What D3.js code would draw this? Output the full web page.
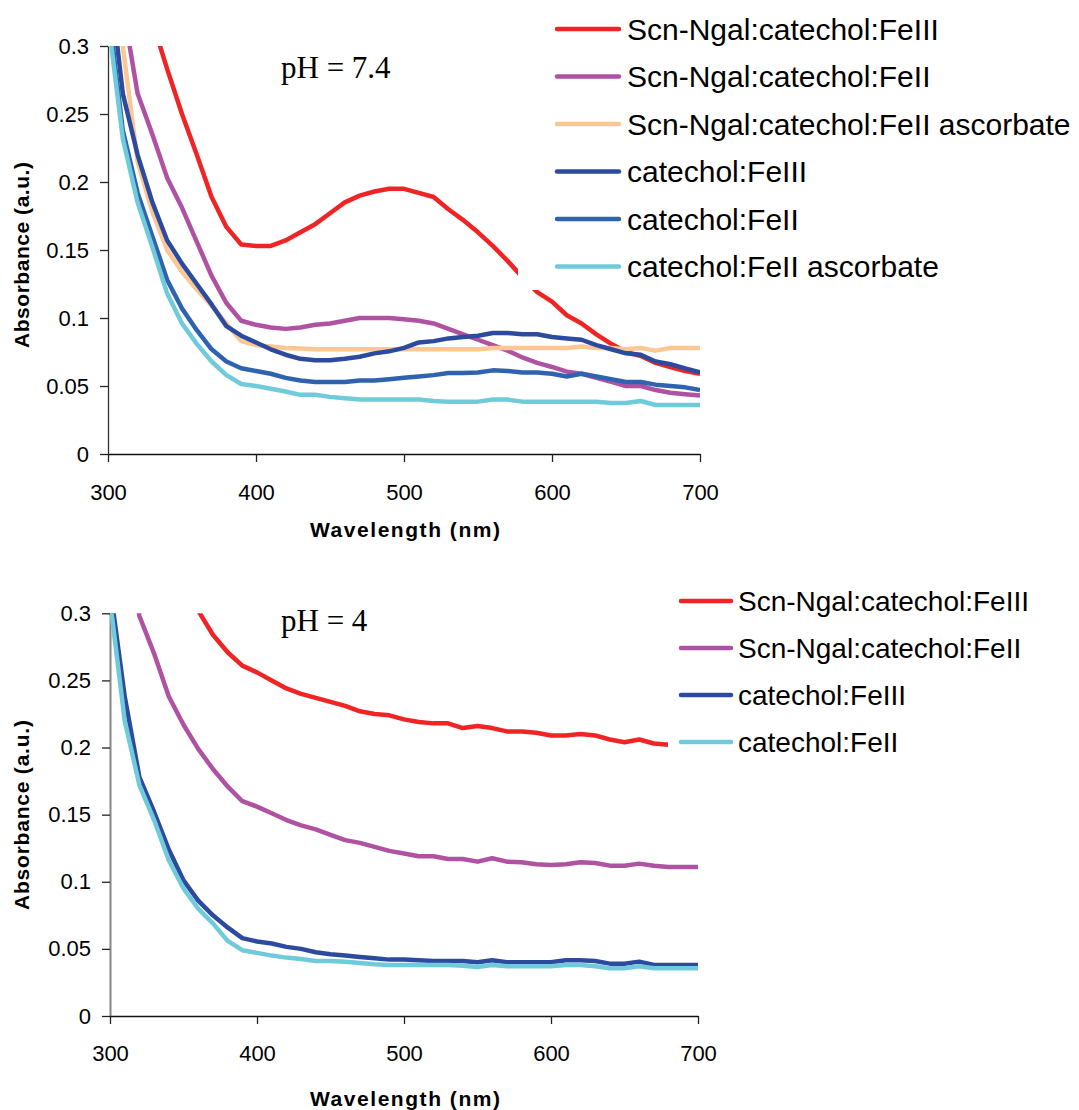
<!DOCTYPE html>
<html>
<head>
<meta charset="utf-8">
<script src="https://cdn.jsdelivr.net/npm/d3@7"></script>
<style>
  body { margin: 0; background: #fff; }
  svg text { font-family: "Liberation Sans", Arial, sans-serif; fill: #000; }
</style>
</head>
<body>
<div id="chart"></div>
<script>
// wavelength grid (nm), shared by every spectrum
const wavelengths = [300, 310, 320, 330, 340, 350, 360, 370, 380, 390, 400,
  410, 420, 430, 440, 450, 460, 470, 480, 490, 500,
  510, 520, 530, 540, 550, 560, 570, 580, 590, 600,
  610, 620, 630, 640, 650, 660, 670, 680, 690, 700];

const xTicks = [300, 400, 500, 600, 700];
const yTicks = [0, 0.05, 0.1, 0.15, 0.2, 0.25, 0.3];

// pH 7.4 spectra
const scnFe3_74 = [0.50, 0.42, 0.36, 0.318, 0.283, 0.250, 0.220, 0.189, 0.167, 0.154, 0.153,
  0.153, 0.157, 0.163, 0.169, 0.177, 0.185, 0.190, 0.193, 0.195, 0.195,
  0.192, 0.189, 0.180, 0.172, 0.163, 0.153, 0.142, 0.130, 0.119, 0.112,
  0.102, 0.096, 0.088, 0.081, 0.075, 0.072, 0.067, 0.064, 0.061, 0.059];
const scnFe2_74 = [0.42, 0.33, 0.265, 0.235, 0.203, 0.181, 0.156, 0.131, 0.111, 0.098, 0.095,
  0.093, 0.092, 0.093, 0.095, 0.096, 0.098, 0.100, 0.100, 0.100, 0.099,
  0.098, 0.096, 0.092, 0.088, 0.084, 0.080, 0.076, 0.071, 0.067, 0.064,
  0.0605, 0.059, 0.056, 0.053, 0.050, 0.050, 0.047, 0.045, 0.044, 0.043];
const scnFe2Asc_74 = [0.40, 0.30, 0.215, 0.178, 0.150, 0.134, 0.121, 0.109, 0.096, 0.083, 0.080,
  0.079, 0.078, 0.0775, 0.077, 0.077, 0.077, 0.077, 0.077, 0.077, 0.077,
  0.077, 0.077, 0.077, 0.077, 0.077, 0.078, 0.078, 0.078, 0.078, 0.078,
  0.078, 0.079, 0.078, 0.078, 0.077, 0.078, 0.076, 0.078, 0.078, 0.078];
const catFe3_74 = [0.36, 0.265, 0.22, 0.185, 0.157, 0.140, 0.125, 0.110, 0.094, 0.087, 0.082,
  0.077, 0.073, 0.070, 0.069, 0.069, 0.070, 0.0715, 0.074, 0.0755, 0.078,
  0.082, 0.083, 0.085, 0.086, 0.087, 0.089, 0.089, 0.088, 0.088, 0.086,
  0.085, 0.084, 0.080, 0.077, 0.074, 0.073, 0.068, 0.066, 0.063, 0.060];
const catFe2_74 = [0.33, 0.238, 0.192, 0.160, 0.128, 0.107, 0.091, 0.077, 0.068, 0.063, 0.061,
  0.059, 0.056, 0.054, 0.053, 0.053, 0.053, 0.054, 0.054, 0.055, 0.056,
  0.057, 0.058, 0.0595, 0.0595, 0.060, 0.0615, 0.061, 0.060, 0.060, 0.059,
  0.057, 0.059, 0.057, 0.055, 0.053, 0.053, 0.051, 0.050, 0.049, 0.047];
const catFe2Asc_74 = [0.32, 0.232, 0.185, 0.152, 0.118, 0.096, 0.081, 0.068, 0.058, 0.0515, 0.050,
  0.048, 0.046, 0.0435, 0.0435, 0.042, 0.041, 0.040, 0.040, 0.040, 0.040,
  0.040, 0.039, 0.0385, 0.0385, 0.0385, 0.040, 0.040, 0.0385, 0.0385, 0.0385,
  0.0385, 0.0385, 0.0385, 0.0375, 0.0375, 0.039, 0.036, 0.036, 0.036, 0.036];

// pH 4 spectra
const scnFe3_4 = [0.60, 0.50, 0.43, 0.375, 0.34, 0.32, 0.302, 0.284, 0.271, 0.261, 0.256,
  0.250, 0.244, 0.240, 0.237, 0.234, 0.231, 0.227, 0.225, 0.224, 0.221,
  0.219, 0.218, 0.218, 0.2145, 0.216, 0.2145, 0.212, 0.212, 0.211, 0.209,
  0.209, 0.210, 0.209, 0.206, 0.204, 0.206, 0.203, 0.202, 0.201, 0.200];
const scnFe2_4 = [0.45, 0.36, 0.298, 0.270, 0.238, 0.217, 0.199, 0.184, 0.171, 0.160, 0.156,
  0.151, 0.146, 0.142, 0.139, 0.135, 0.131, 0.129, 0.126, 0.123, 0.121,
  0.119, 0.119, 0.117, 0.117, 0.115, 0.1175, 0.115, 0.1145, 0.113, 0.1125,
  0.113, 0.1145, 0.114, 0.112, 0.112, 0.1135, 0.112, 0.111, 0.111, 0.111];
const catFe3_4 = [0.32, 0.238, 0.178, 0.152, 0.124, 0.101, 0.086, 0.075, 0.066, 0.058, 0.0555,
  0.054, 0.0515, 0.050, 0.0475, 0.046, 0.045, 0.044, 0.043, 0.042, 0.042,
  0.0415, 0.041, 0.041, 0.041, 0.040, 0.0415, 0.040, 0.040, 0.040, 0.040,
  0.0415, 0.0415, 0.041, 0.039, 0.039, 0.0405, 0.038, 0.038, 0.038, 0.038];
const catFe2_4 = [0.31, 0.22, 0.172, 0.146, 0.116, 0.095, 0.080, 0.069, 0.056, 0.049, 0.047,
  0.045, 0.0435, 0.0425, 0.041, 0.041, 0.0405, 0.0395, 0.0385, 0.038, 0.038,
  0.038, 0.038, 0.038, 0.0375, 0.0365, 0.038, 0.037, 0.037, 0.037, 0.037,
  0.038, 0.038, 0.037, 0.0355, 0.0355, 0.037, 0.0355, 0.0355, 0.0355, 0.0355];

const names74 = ["Scn-Ngal:catechol:FeIII", "Scn-Ngal:catechol:FeII", "Scn-Ngal:catechol:FeII ascorbate",
  "catechol:FeIII", "catechol:FeII", "catechol:FeII ascorbate"];
const names4 = ["Scn-Ngal:catechol:FeIII", "Scn-Ngal:catechol:FeII", "catechol:FeIII", "catechol:FeII"];

const colors74 = ["#ee2524", "#b052a2", "#fac795", "#2d4b9e", "#2f63b0", "#6fcbd9"];
const colors4 = ["#ee2524", "#b052a2", "#2d4b9e", "#6fcbd9"];

const W = 1079, H = 1110;

const svg = d3.select("#chart").append("svg")
  .attr("width", W)
  .attr("height", H);

const panels = [
  {
    id: "ph74", ph: "pH = 7.4",
    left: 108, right: 700, top: 46, bottom: 454,
    series: [scnFe3_74, scnFe2_74, scnFe2Asc_74, catFe3_74, catFe2_74, catFe2Asc_74],
    names: names74, colors: colors74,
    yAxisColor: "#333", yAxisWidth: 1.3,
    phX: 281, phY: 78,
    xLabelY: 484, xTitleY: 536.5, yTitleX: 28.5, yTitleY: 255, yTitleLen: 186,
    legend: {x0: 518, y0: 0, y1: 290, lineX: 557, lineX2: 619, textX: 627, firstY: 29, step: 47.5, size: 30}
  },
  {
    id: "ph4", ph: "pH = 4",
    left: 110, right: 698, top: 613.3, bottom: 1016,
    series: [scnFe3_4, scnFe2_4, catFe3_4, catFe2_4],
    names: names4, colors: colors4,
    yAxisColor: "#858585", yAxisWidth: 2,
    phX: 281, phY: 631,
    xLabelY: 1045.5, xTitleY: 1105.5, yTitleX: 28.5, yTitleY: 815, yTitleLen: 190,
    legend: {x0: 668, y0: 575, y1: 770, lineX: 681, lineX2: 731, textX: 738, firstY: 601, step: 47, size: 28}
  }
];

panels.forEach(drawPanel);

function drawPanel(p) {
  const x = d3.scaleLinear().domain([300, 700]).range([p.left, p.right]);
  const y = d3.scaleLinear().domain([0, 0.3]).range([p.bottom, p.top]);
  const g = svg.append("g");

  g.append("clipPath").attr("id", "clip-" + p.id)
    .append("rect")
    .attr("x", p.left).attr("y", p.top)
    .attr("width", p.right - p.left).attr("height", p.bottom - p.top);

  // y axis
  const yAxis = g.append("g")
    .attr("transform", `translate(${p.left},0)`)
    .call(d3.axisLeft(y).tickValues(yTicks).tickSize(8).tickSizeOuter(0).tickPadding(11)
      .tickFormat(d => String(d)));
  yAxis.select(".domain").attr("stroke", p.yAxisColor).attr("stroke-width", p.yAxisWidth);
  yAxis.selectAll(".tick line").attr("stroke", "#222").attr("stroke-width", 1.3);
  yAxis.selectAll(".tick text").attr("font-size", 22).attr("fill", "#000")
    .style("font-family", '"Liberation Sans", Arial, sans-serif');

  // x axis
  const xAxis = g.append("g")
    .attr("transform", `translate(0,${p.bottom})`)
    .call(d3.axisBottom(x).tickValues(xTicks).tickSize(8).tickSizeOuter(0)
      .tickPadding(p.xLabelY - p.bottom - 8).tickFormat(d3.format("d")));
  xAxis.select(".domain").attr("stroke", "#111").attr("stroke-width", 1.3);
  xAxis.selectAll(".tick line").attr("stroke", "#222").attr("stroke-width", 1.3);
  xAxis.selectAll(".tick text").attr("font-size", 22).attr("fill", "#000")
    .style("font-family", '"Liberation Sans", Arial, sans-serif');

  // axis titles
  g.append("text")
    .attr("x", (p.left + p.right) / 2 + 1)
    .attr("y", p.xTitleY)
    .attr("text-anchor", "middle")
    .attr("font-size", 21)
    .attr("font-weight", "bold")
    .attr("textLength", 190)
    .attr("lengthAdjust", "spacing")
    .text("Wavelength (nm)");

  g.append("text")
    .attr("transform", `translate(${p.yTitleX},${p.yTitleY}) rotate(-90)`)
    .attr("text-anchor", "middle")
    .attr("font-size", 21)
    .attr("font-weight", "bold")
    .attr("textLength", p.yTitleLen)
    .attr("lengthAdjust", "spacing")
    .text("Absorbance (a.u.)");

  // spectra
  const line = d3.line()
    .x((d, i) => x(wavelengths[i]))
    .y(d => y(d));

  g.append("g").attr("clip-path", `url(#clip-${p.id})`)
    .selectAll("path")
    .data(p.series)
    .join("path")
    .attr("d", line)
    .attr("fill", "none")
    .attr("stroke", (d, i) => p.colors[i])
    .attr("stroke-width", 4.5)
    .attr("stroke-linejoin", "round");

  // pH annotation
  g.append("text")
    .attr("x", p.phX)
    .attr("y", p.phY)
    .attr("font-size", 31)
    .style("font-family", '"Liberation Serif", "Times New Roman", serif')
    .text(p.ph);

  // legend sits on an opaque box over the plot
  const L = p.legend;
  const leg = g.append("g");
  leg.append("rect")
    .attr("x", L.x0).attr("y", L.y0)
    .attr("width", W - L.x0).attr("height", L.y1 - L.y0)
    .attr("fill", "#fff");

  const item = leg.selectAll("g.item")
    .data(p.names)
    .join("g")
    .attr("class", "item")
    .attr("transform", (d, i) => `translate(0,${L.firstY + i * L.step})`);
  item.append("line")
    .attr("x1", L.lineX).attr("x2", L.lineX2)
    .attr("stroke", (d, i) => p.colors[i])
    .attr("stroke-width", 4.5)
    .attr("stroke-linecap", "round");
  item.append("text")
    .attr("x", L.textX)
    .attr("dy", "0.36em")
    .attr("font-size", L.size)
    .text(d => d);
}
</script>
</body>
</html>
